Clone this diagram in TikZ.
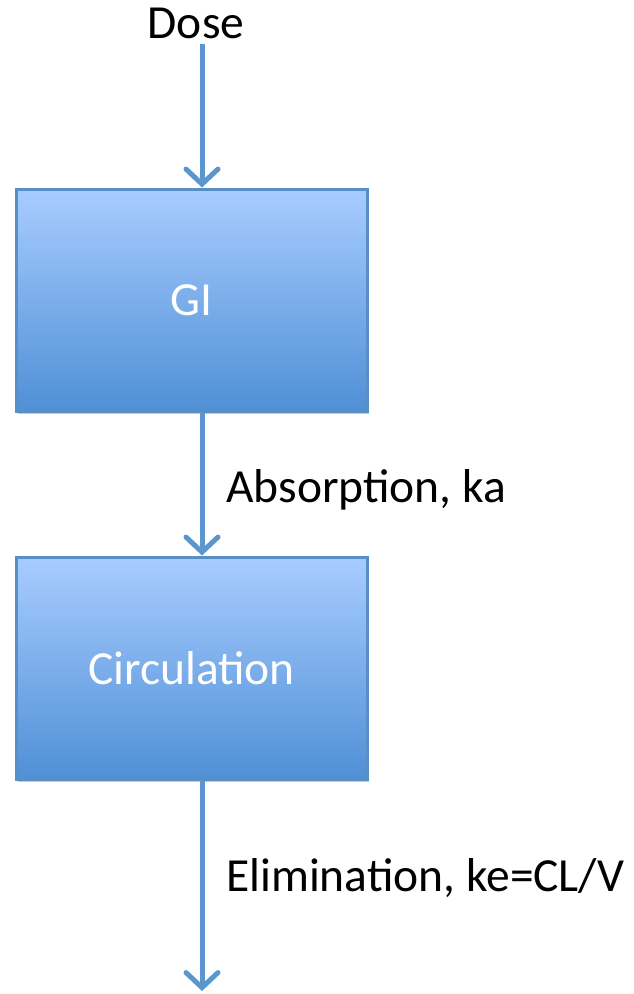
\documentclass[tikz,border=0pt]{standalone}
\usepackage{fontspec}
\setmainfont{Carlito}
\usetikzlibrary{arrows.meta,shadows,positioning}
\definecolor{lineblue}{HTML}{5B96CC}
\definecolor{boxborder}{HTML}{5A8EC6}
\definecolor{topblue}{HTML}{A8CCFF}
\definecolor{botblue}{HTML}{4F90D6}
\tikzset{
  comp/.style={draw=boxborder, line width=3pt, top color=topblue, bottom color=botblue,
    minimum width=351pt, minimum height=222pt, inner sep=0pt,
    font=\fontsize{47.5}{56}\selectfont, text=white,
    drop shadow={shadow xshift=1.5pt, shadow yshift=-2.5pt, opacity=0.35, fill=black!60}},
  flow/.style={draw=lineblue, line width=5pt,
    -{Straight Barb[length=15pt, width=32pt, line width=5pt, line cap=round]}},
  lbl/.style={font=\fontsize{47.5}{56}\selectfont, text=black, inner sep=0pt, anchor=west}
}
\begin{document}
\begin{tikzpicture}[x=1pt, y=-1pt]
\useasboundingbox (0,0) rectangle (633,994);
\node[lbl, anchor=center] (dose) at (196,23) {Dose};
\node[comp] (gi) at (191.5,300) {GI};
\node[comp] (circ) at (191.5,668) {Circulation};
\coordinate (top) at (202,44);
\coordinate (end) at (202,991);
\draw[flow] (top) -- (top |- gi.north);
\draw[flow] (gi.south -| top) -- (circ.north -| top);
\draw[flow] (circ.south -| top) -- (end);
\node[lbl] (abs) at (226,490) {Absorption, ka};
\node[lbl] (elim) at (226,878) {Elimination, ke=CL/V};
\end{tikzpicture}
\end{document}
